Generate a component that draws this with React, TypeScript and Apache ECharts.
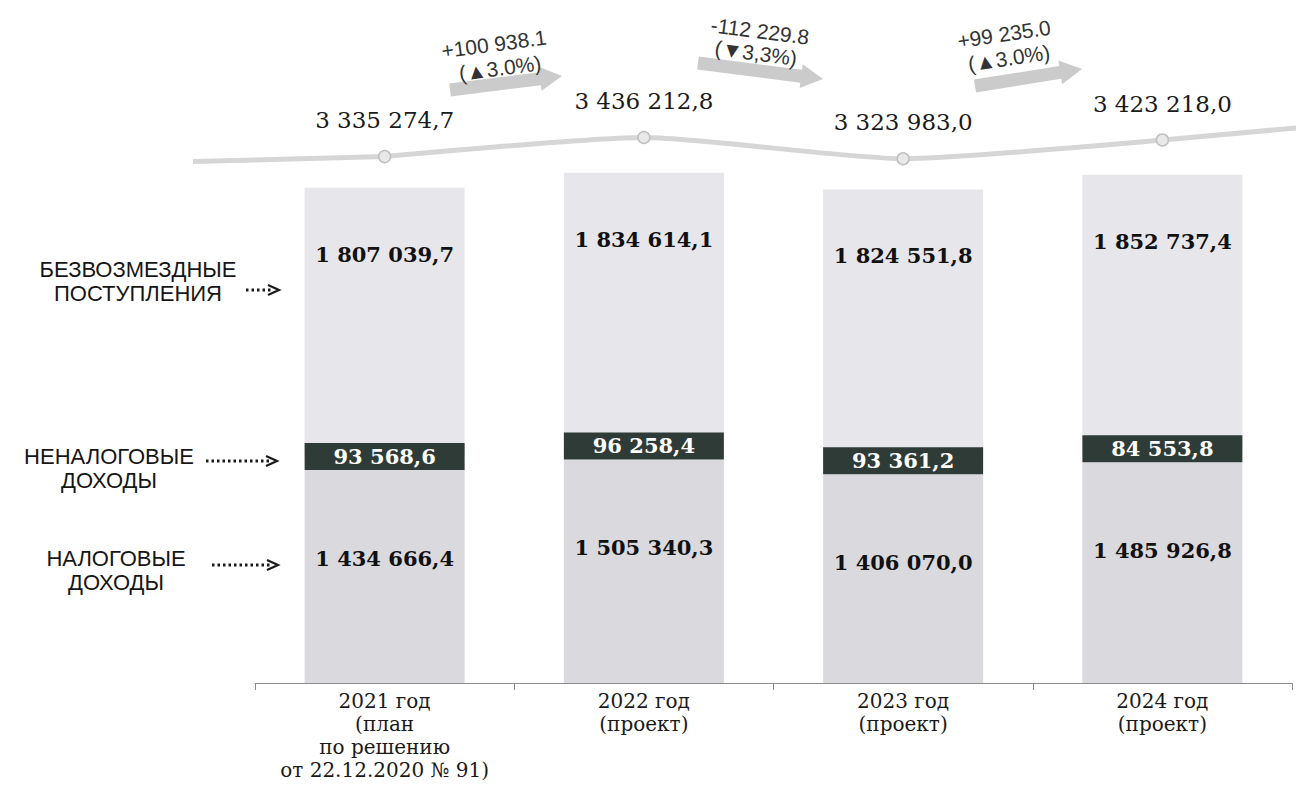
import React, { useEffect, useRef } from "react";
import * as echarts from "echarts";

const categories = [
  "2021 год\n(план\nпо решению\nот 22.12.2020 № 91)",
  "2022 год\n(проект)",
  "2023 год\n(проект)",
  "2024 год\n(проект)",
];
const taxIncome = [1434666.4, 1505340.3, 1406070.0, 1485926.8];
const nonTaxIncome = [93568.6, 96258.4, 93361.2, 84553.8];
const grants = [1807039.7, 1834614.1, 1824551.8, 1852737.4];
const totals = [3335274.7, 3436212.8, 3323983.0, 3423218.0];
const changeLabels = ["+100 938.1", "-112 229.8", "+99 235.0"];
const changePctLabels = ["(▲3.0%)", "(▼3,3%)", "(▲3.0%)"];
const seriesNames = ["Налоговые доходы", "Неналоговые доходы", "Безвозмездные поступления", "Всего доходов"];
const sideLabels = ["БЕЗВОЗМЕЗДНЫЕ\nПОСТУПЛЕНИЯ", "НЕНАЛОГОВЫЕ\nДОХОДЫ", "НАЛОГОВЫЕ\nДОХОДЫ"];

const fmt = (v: number) => {
  const [i, d] = v.toFixed(1).split(".");
  return i.replace(/\B(?=(\d{3})+(?!\d))/g, " ") + "," + d;
};

const SERIF = "'DejaVu Serif', serif";
const SANS = "'Liberation Sans', Arial, sans-serif";

function blockArrow(id: string, x1: number, y1: number, x2: number, y2: number) {
  const theta = Math.atan2(y2 - y1, x2 - x1);
  const L = Math.hypot(x2 - x1, y2 - y1);
  const b = 6.5;
  const h = 12;
  const hl = 22;
  return {
    type: "group",
    id,
    x: x1,
    y: y1,
    rotation: -theta,
    children: [
      {
        type: "polygon",
        shape: {
          points: [
            [0, -b],
            [L - hl, -b],
            [L - hl, -h],
            [L, 0],
            [L - hl, h],
            [L - hl, b],
            [0, b],
          ],
        },
        style: { fill: "#cbcbcb" },
      },
    ],
  };
}

function dotArrow(id: string, x1: number, x2: number, y: number) {
  return {
    type: "group",
    id,
    children: [
      {
        type: "line",
        shape: { x1, y1: y, x2: x2 - 6, y2: y },
        style: { stroke: "#1a1a1a", lineWidth: 3, lineDash: [2.5, 3] },
      },
      {
        type: "polyline",
        shape: { points: [[x2 - 11, y - 5], [x2, y], [x2 - 11, y + 5]] },
        style: { stroke: "#1a1a1a", lineWidth: 2.2, fill: null },
      },
    ],
  };
}

export default function App() {
  const ref = useRef<HTMLDivElement>(null);
  useEffect(() => {
    if (!ref.current) return;
    const chart = echarts.init(ref.current, null, { renderer: "svg" });
    chart.setOption({
      animation: false,
      backgroundColor: "#ffffff",
      grid: { left: 255, right: 4, top: 89, bottom: 112, containLabel: false, outerBoundsMode: "none" },
      xAxis: {
        type: "category",
        data: categories,
        axisLine: { lineStyle: { color: "#8c8c8c", width: 1 } },
        axisTick: { show: true, length: 7, lineStyle: { color: "#8c8c8c" } },
        axisLabel: {
          interval: 0,
          fontFamily: SERIF,
          fontSize: 20,
          lineHeight: 23,
          color: "#1a1a1a",
          margin: 6,
        },
      },
      yAxis: [
        { type: "value", min: 0, max: 4000000, show: false, splitLine: { show: false } },
        { type: "value", min: 549900, max: 3692900, show: false, splitLine: { show: false } },
      ],
      series: [
        {
          name: seriesNames[0],
          type: "bar",
          stack: "total",
          barWidth: 160,
          data: taxIncome,
          itemStyle: { color: "#d9d9de" },
          label: {
            show: true,
            position: "insideTop",
            distance: 78,
            fontFamily: SERIF,
            fontWeight: "bold",
            fontSize: 21,
            color: "#111",
            formatter: (p: any) => fmt(p.value),
          },
        },
        {
          name: seriesNames[1],
          type: "bar",
          stack: "total",
          barWidth: 160,
          barMinHeight: 27,
          z: 3,
          data: nonTaxIncome,
          itemStyle: { color: "#2f3b37" },
          label: {
            show: true,
            position: "inside",
            fontFamily: SERIF,
            fontWeight: "bold",
            fontSize: 21,
            color: "#ffffff",
            formatter: (p: any) => fmt(p.value),
          },
        },
        {
          name: seriesNames[2],
          type: "bar",
          stack: "total",
          barWidth: 160,
          data: grants,
          itemStyle: { color: "#e7e6ea" },
          label: {
            show: true,
            position: "insideTop",
            distance: 56,
            fontFamily: SERIF,
            fontWeight: "bold",
            fontSize: 21,
            color: "#111",
            formatter: (p: any) => fmt(p.value),
          },
        },
        {
          name: seriesNames[3],
          type: "line",
          yAxisIndex: 1,
          data: totals,
          smooth: 0.2,
          z: 4,
          symbol: "circle",
          symbolSize: 12,
          lineStyle: { color: "#d6d6d6", width: 5 },
          itemStyle: { color: "#e8e8e8", borderColor: "#c0c0c0", borderWidth: 1.5 },
          label: {
            show: true,
            position: "top",
            distance: 18,
            fontFamily: SERIF,
            fontSize: 23,
            color: "#1a1a1a",
            formatter: (p: any) => fmt(p.value),
          },
        },
      ],
    });

    const p0 = chart.convertToPixel({ seriesIndex: 3 }, [0, totals[0]]) as number[];
    const pN = chart.convertToPixel({ seriesIndex: 3 }, [totals.length - 1, totals[totals.length - 1]]) as number[];

    const arrowGeom = [
      [450, 90, 562, 76],
      [698, 63, 823, 79],
      [975, 86, 1082, 69],
    ];
    const textPos = [
      [494, 44, 0.13, 500, 68],
      [760, 31, -0.13, 756, 53],
      [1004, 34, 0.15, 1009, 58],
    ];

    const graphics: any[] = [];
    graphics.push({
      type: "line",
      id: "extL",
      z: 1,
      shape: { x1: 193, y1: p0[1] + 5, x2: p0[0], y2: p0[1] },
      style: { stroke: "#d6d6d6", lineWidth: 5 },
    });
    graphics.push({
      type: "line",
      id: "extR",
      z: 1,
      shape: { x1: pN[0], y1: pN[1], x2: 1296, y2: pN[1] - 12 },
      style: { stroke: "#d6d6d6", lineWidth: 5 },
    });
    arrowGeom.forEach((g, i) => {
      graphics.push(blockArrow("arr" + i, g[0], g[1], g[2], g[3]));
      const t = textPos[i];
      graphics.push({
        type: "text",
        id: "chg" + i,
        x: t[0],
        y: t[1],
        rotation: t[2],
        style: { text: changeLabels[i], font: `21px ${SANS}`, fill: "#333", align: "center", verticalAlign: "middle" },
      });
      graphics.push({
        type: "text",
        id: "pct" + i,
        x: t[3],
        y: t[4],
        rotation: t[2],
        style: { text: changePctLabels[i], font: `21px ${SANS}`, fill: "#333", align: "center", verticalAlign: "middle" },
      });
    });
    const sidePos = [
      [138, 281],
      [109, 468],
      [116, 570],
    ];
    sideLabels.forEach((s, i) => {
      graphics.push({
        type: "text",
        id: "side" + i,
        x: sidePos[i][0],
        y: sidePos[i][1],
        style: {
          text: s,
          font: `22px ${SANS}`,
          fill: "#161616",
          align: "center",
          verticalAlign: "middle",
          lineHeight: 24,
        },
      });
    });
    graphics.push(dotArrow("da0", 246, 279, 290));
    graphics.push(dotArrow("da1", 206, 277, 461));
    graphics.push(dotArrow("da2", 212, 278, 565));

    chart.setOption({ graphic: graphics });

    return () => chart.dispose();
  }, []);
  return (
    <div
      ref={ref}
      style={{ position: "absolute", left: 0, top: 0, width: 1296, height: 795 }}
    />
  );
}
